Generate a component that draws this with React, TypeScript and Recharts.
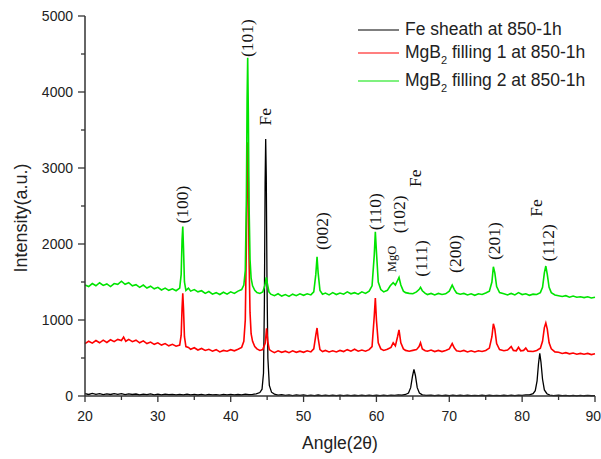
import React from 'react';
import { ComposedChart, Line, Scatter, XAxis, YAxis, Legend, Label } from 'recharts';

type Pt = [number, number];

// 2-theta axis ticks (labels on the tens) and intensity ticks (labels on the thousands)
const angleTicks = [20, 25, 30, 35, 40, 45, 50, 55, 60, 65, 70, 75, 80, 85, 90];
const intensityTicks = [0, 500, 1000, 1500, 2000, 2500, 3000, 3500, 4000, 4500, 5000];

// [2θ, counts]
const feSheath: Pt[] = [
  [20, 30], [20.5, 20], [21, 35], [21.5, 22], [22, 30], [22.5, 18], [23, 28], [23.5, 20], [24, 32], [24.5, 22],
  [25, 30], [25.5, 18], [26, 28], [26.5, 20], [27, 26], [27.5, 15], [28, 25], [28.5, 18], [29, 27], [29.5, 16],
  [30, 24], [30.5, 15], [31, 25], [31.5, 18], [32, 22], [32.5, 14], [33, 22], [33.5, 16], [34, 24], [34.5, 14],
  [35, 20], [35.5, 13], [36, 22], [36.5, 12], [37, 20], [37.5, 14], [38, 18], [38.5, 12], [39, 20], [39.5, 14],
  [40, 22], [40.5, 15], [41, 20], [41.5, 16], [42, 24], [42.5, 18], [43, 22], [43.5, 28], [44, 45], [44.3, 90],
  [44.5, 300], [44.62, 1200], [44.72, 2800], [44.8, 3380], [44.88, 2900], [44.98, 1500], [45.1, 500], [45.3, 140],
  [45.6, 50], [46, 25], [46.5, 12], [47, 18], [47.5, 8], [48, 15], [48.5, 6], [49, 14], [49.5, 8], [50, 14],
  [50.5, 6], [51, 12], [51.5, 5], [52, 13], [52.5, 6], [53, 12], [53.5, 4], [54, 12], [54.5, 5], [55, 11],
  [55.5, 4], [56, 12], [56.5, 5], [57, 10], [57.5, 4], [58, 11], [58.5, 5], [59, 12], [59.5, 4], [60, 10],
  [60.5, 5], [61, 12], [61.5, 6], [62, 12], [62.5, 8], [63, 14], [63.5, 10], [64, 20], [64.4, 40], [64.7, 110],
  [64.95, 260], [65.15, 350], [65.35, 270], [65.6, 110], [65.9, 40], [66.3, 15], [66.8, 8], [67.5, 12], [68, 5],
  [68.5, 11], [69, 4], [69.5, 10], [70, 5], [70.5, 11], [71, 4], [71.5, 10], [72, 5], [72.5, 10], [73, 4],
  [73.5, 9], [74, 4], [74.5, 10], [75, 5], [75.5, 10], [76, 4], [76.5, 9], [77, 5], [77.5, 10], [78, 5],
  [78.5, 11], [79, 6], [79.5, 12], [80, 8], [80.5, 14], [81, 15], [81.5, 30], [81.8, 70], [82.05, 200],
  [82.25, 430], [82.42, 560], [82.58, 450], [82.8, 220], [83.05, 80], [83.4, 30], [83.8, 12], [84.3, 6],
  [85, 10], [85.5, 4], [86, 9], [86.5, 3], [87, 8], [87.5, 3], [88, 8], [88.5, 3], [89, 7], [89.5, 3], [90, 6],
];

const filling1: Pt[] = [
  [20, 690], [20.5, 720], [21, 695], [21.5, 730], [22, 700], [22.5, 735], [23, 705], [23.5, 740], [24, 715],
  [24.5, 745], [25, 730], [25.3, 775], [25.6, 720], [26, 745], [26.5, 715], [27, 735], [27.5, 700], [28, 725],
  [28.5, 690], [29, 710], [29.5, 680], [30, 700], [30.5, 670], [31, 690], [31.5, 660], [32, 680], [32.5, 655],
  [33, 670], [33.2, 800], [33.32, 1150], [33.42, 1350], [33.52, 1150], [33.65, 780], [33.85, 650], [34.2, 640],
  [34.5, 615], [35, 635], [35.5, 605], [36, 625], [36.5, 600], [37, 615], [37.5, 590], [38, 610], [38.5, 580],
  [39, 600], [39.5, 590], [40, 610], [40.5, 595], [41, 615], [41.5, 640], [41.8, 720], [42.0, 1000],
  [42.15, 2000], [42.25, 2900], [42.33, 3340], [42.42, 2800], [42.52, 1800], [42.65, 1100], [42.8, 820],
  [43.0, 720], [43.3, 650], [43.6, 620], [44.0, 600], [44.4, 610], [44.75, 700], [44.92, 890], [45.08, 720],
  [45.3, 610], [45.6, 590], [46, 570], [46.5, 595], [47, 575], [47.5, 590], [48, 570], [48.5, 595], [49, 575],
  [49.5, 590], [50, 575], [50.5, 595], [51, 580], [51.4, 620], [51.68, 800], [51.85, 895], [52.0, 760],
  [52.25, 610], [52.6, 585], [53, 600], [53.5, 580], [54, 595], [54.5, 580], [55, 600], [55.5, 585], [56, 610],
  [56.5, 590], [57, 615], [57.5, 590], [58, 605], [58.5, 590], [59, 610], [59.4, 650], [59.7, 1050],
  [59.85, 1290], [60.0, 1000], [60.25, 700], [60.6, 620], [61, 600], [61.5, 615], [62, 640], [62.3, 700],
  [62.6, 660], [62.9, 780], [63.1, 870], [63.35, 700], [63.7, 620], [64, 600], [64.5, 590], [65, 600],
  [65.5, 610], [65.85, 650], [66.05, 700], [66.3, 620], [66.7, 595], [67, 590], [67.5, 605], [68, 585],
  [68.5, 600], [69, 585], [69.5, 600], [70, 620], [70.4, 690], [70.7, 630], [71, 595], [71.5, 585], [72, 600],
  [72.5, 580], [73, 595], [73.5, 580], [74, 595], [74.5, 585], [75, 600], [75.5, 630], [75.85, 780],
  [76.05, 950], [76.25, 880], [76.5, 690], [76.9, 610], [77.5, 595], [78, 605], [78.5, 650], [78.8, 600],
  [79.2, 595], [79.5, 640], [79.8, 595], [80.2, 600], [80.5, 630], [80.8, 590], [81.5, 585], [82, 600],
  [82.5, 630], [82.8, 720], [83.05, 900], [83.25, 960], [83.45, 880], [83.7, 700], [84, 620], [84.5, 580],
  [85, 575], [85.5, 560], [86, 570], [86.5, 555], [87, 565], [87.5, 550], [88, 560], [88.5, 550], [89, 560],
  [89.5, 545], [90, 555],
];

const filling2: Pt[] = [
  [20, 1460], [20.5, 1440], [21, 1480], [21.5, 1450], [22, 1490], [22.5, 1455], [23, 1475], [23.5, 1440],
  [24, 1480], [24.5, 1470], [25, 1510], [25.5, 1470], [26, 1490], [26.5, 1450], [27, 1465], [27.5, 1430],
  [28, 1460], [28.5, 1420], [29, 1445], [29.5, 1410], [30, 1430], [30.5, 1395], [31, 1420], [31.5, 1390],
  [32, 1410], [32.5, 1385], [33, 1420], [33.2, 1600], [33.32, 2050], [33.42, 2230], [33.52, 1950], [33.65, 1500],
  [33.85, 1390], [34.2, 1420], [34.5, 1380], [35, 1400], [35.5, 1370], [36, 1385], [36.5, 1350], [37, 1375],
  [37.5, 1340], [38, 1360], [38.5, 1335], [39, 1365], [39.5, 1340], [40, 1370], [40.5, 1350], [41, 1380],
  [41.5, 1400], [41.8, 1460], [42.0, 1650], [42.15, 2600], [42.25, 3900], [42.33, 4450], [42.42, 3700],
  [42.52, 2500], [42.65, 1800], [42.8, 1550], [43.0, 1450], [43.3, 1390], [43.6, 1360], [44.0, 1350],
  [44.4, 1370], [44.7, 1460], [44.88, 1560], [45.05, 1470], [45.25, 1370], [45.5, 1340], [46, 1320],
  [46.5, 1345], [47, 1315], [47.5, 1335], [48, 1310], [48.5, 1340], [49, 1320], [49.5, 1345], [50, 1325],
  [50.5, 1345], [51, 1330], [51.4, 1370], [51.68, 1600], [51.85, 1830], [52.0, 1620], [52.25, 1390],
  [52.6, 1340], [53, 1355], [53.5, 1330], [54, 1360], [54.5, 1335], [55, 1355], [55.5, 1340], [56, 1370],
  [56.5, 1345], [57, 1360], [57.5, 1340], [58, 1370], [58.5, 1350], [59, 1380], [59.4, 1450], [59.7, 1850],
  [59.85, 2160], [60.0, 1900], [60.25, 1500], [60.6, 1400], [61, 1370], [61.5, 1390], [61.9, 1450],
  [62.3, 1490], [62.6, 1460], [62.9, 1520], [63.1, 1560], [63.35, 1460], [63.7, 1380], [64, 1360], [64.5, 1350],
  [65, 1345], [65.5, 1370], [65.85, 1400], [66.05, 1430], [66.3, 1385], [66.7, 1350], [67, 1335], [67.5, 1350],
  [68, 1330], [68.5, 1350], [69, 1335], [69.5, 1345], [70, 1380], [70.4, 1460], [70.7, 1400], [71, 1355],
  [71.5, 1340], [72, 1350], [72.5, 1330], [73, 1345], [73.5, 1325], [74, 1345], [74.5, 1335], [75, 1355],
  [75.5, 1380], [75.85, 1500], [76.05, 1700], [76.25, 1620], [76.5, 1440], [76.9, 1360], [77.5, 1345],
  [78, 1330], [78.5, 1350], [79, 1330], [79.5, 1360], [80, 1335], [80.5, 1345], [81, 1325], [81.5, 1340],
  [82, 1335], [82.5, 1360], [82.8, 1430], [83.05, 1620], [83.25, 1710], [83.45, 1600], [83.7, 1430],
  [84, 1360], [84.5, 1330], [85, 1320], [85.5, 1310], [86, 1320], [86.5, 1300], [87, 1315], [87.5, 1300],
  [88, 1305], [88.5, 1295], [89, 1305], [89.5, 1290], [90, 1300],
];

// reflection indices / phase marks, placed just above their peaks
const peakLabels = [
  { angle: 33.4, value: 2270, text: '(100)' },
  { angle: 42.3, value: 4460, text: '(101)' },
  { angle: 44.8, value: 3560, text: 'Fe' },
  { angle: 52.5, value: 1920, text: '(002)' },
  { angle: 59.8, value: 2180, text: '(110)' },
  { angle: 62.1, value: 1630, text: 'MgO' },
  { angle: 63.1, value: 2140, text: '(102)' },
  { angle: 65.3, value: 2750, text: 'Fe' },
  { angle: 66.1, value: 1570, text: '(111)' },
  { angle: 70.8, value: 1620, text: '(200)' },
  { angle: 76.2, value: 1790, text: '(201)' },
  { angle: 82.0, value: 2360, text: 'Fe' },
  { angle: 83.6, value: 1770, text: '(112)' },
];

const toRows = (pts: Pt[]) => pts.map(([angle, value]) => ({ angle, value }));

const series = [
  { name: 'Fe sheath at 850-1h', color: '#000000', width: 1.3, rows: toRows(feSheath) },
  { name: 'MgB2 filling 1 at 850-1h', color: '#ff0000', width: 1.6, rows: toRows(filling1) },
  { name: 'MgB2 filling 2 at 850-1h', color: '#00e400', width: 1.6, rows: toRows(filling2) },
];

const SANS = '"Liberation Sans", Arial, sans-serif';
const SERIF = '"Liberation Serif", "Times New Roman", serif';
const AXIS = '#333';
const TEXT = '#222';

const BottomTick = ({ x, y, payload }: any) => {
  const major = payload.value % 10 === 0;
  // the last label sits against the right edge of the figure
  const last = payload.value === angleTicks[angleTicks.length - 1];
  return (
    <g>
      <line x1={x} y1={y} x2={x} y2={y + (major ? 6 : 4)} stroke={AXIS} strokeWidth={1.3} />
      {major && (
        <text
          x={last ? x + 6 : x}
          y={y + 25}
          textAnchor={last ? 'end' : 'middle'}
          fill={TEXT}
          fontSize={14}
          fontFamily={SANS}
        >
          {payload.value}
        </text>
      )}
    </g>
  );
};

const TopTick = ({ x, y, payload }: any) => {
  const major = payload.value % 10 === 0;
  return <line x1={x} y1={y} x2={x} y2={y - (major ? 7 : 4)} stroke={AXIS} strokeWidth={1.3} />;
};

const LeftTick = ({ x, y, payload }: any) => {
  const major = payload.value % 1000 === 0;
  return (
    <g>
      <line x1={x} y1={y} x2={x - (major ? 7 : 4)} y2={y} stroke={AXIS} strokeWidth={1.3} />
      {major && (
        <text x={x - 12} y={y + 5} textAnchor="end" fill={TEXT} fontSize={14} fontFamily={SANS}>
          {payload.value}
        </text>
      )}
    </g>
  );
};

const RightTick = ({ x, y }: any) => (
  <line x1={x} y1={y} x2={x + 6} y2={y} stroke={AXIS} strokeWidth={1.3} />
);

const YTitle = ({ viewBox }: any) => {
  const cx = viewBox.x + 27;
  const cy = viewBox.y + viewBox.height / 2 + 12;
  return (
    <text x={cx} y={cy} transform={`rotate(-90 ${cx} ${cy})`} textAnchor="middle" fill={TEXT} fontSize={18} fontFamily={SANS}>
      Intensity(a.u.)
    </text>
  );
};

const XTitle = ({ viewBox }: any) => (
  <text x={viewBox.x + viewBox.width / 2} y={viewBox.y + 53} textAnchor="middle" fill={TEXT} fontSize={17.5} fontFamily={SANS}>
    Angle(2θ)
  </text>
);

const PeakLabel = (props: any) => {
  const { cx, cy, payload } = props;
  const small = payload.text === 'MgO';
  return (
    <text
      x={cx}
      y={cy}
      dy="0.33em"
      transform={`rotate(-90 ${cx} ${cy})`}
      fill="#111"
      fontSize={small ? 12.5 : 17.5}
      fontFamily={SERIF}
    >
      {payload.text}
    </text>
  );
};

// series names carry "MgB2", drawn with a subscript 2
const LegendName = ({ name, y }: { name: string; y: number }) => {
  const m = name.match(/^MgB2(.*)$/);
  if (!m) {
    return <text x={50} y={y} fontSize={17.5} fontFamily={SANS} fill={TEXT}>{name}</text>;
  }
  return (
    <text x={50} y={y} fontSize={17.5} fontFamily={SANS} fill={TEXT} style={{ whiteSpace: 'pre' }}>
      MgB<tspan dy={6} fontSize={11}>2</tspan>
      <tspan dy={-6}>{m[1]}</tspan>
    </text>
  );
};

const renderLegend = ({ payload }: any) => {
  const rowBase = [27, 50, 78];
  const items = (payload || []).filter((p: any) => p.type !== 'none');
  return (
    <svg width={245} height={88}>
      {items.map((entry: any, i: number) => (
        <g key={entry.value}>
          <line x1={3} x2={44} y1={rowBase[i] - 5} y2={rowBase[i] - 5} stroke={entry.color} strokeWidth={1.2} />
          <LegendName name={entry.value} y={rowBase[i]} />
        </g>
      ))}
    </svg>
  );
};

export default function App() {
  return (
    <div style={{ position: 'absolute', left: 0, top: 0, width: 601, height: 459, background: '#fff' }}>
      <ComposedChart width={601} height={459} margin={{ top: 16, right: 6, bottom: 0, left: 0 }}>
        {/* frame axes without labels */}
        <XAxis
          xAxisId="top"
          orientation="top"
          type="number"
          dataKey="angle"
          domain={[20, 90]}
          ticks={angleTicks}
          interval={0}
          height={0}
          tickSize={0}
          tickMargin={0}
          tickLine={false}
          tick={<TopTick />}
          axisLine={{ stroke: AXIS, strokeWidth: 1.5 }}
        />
        <YAxis
          yAxisId="right"
          orientation="right"
          type="number"
          domain={[0, 5000]}
          ticks={intensityTicks}
          interval={0}
          width={0}
          tickSize={0}
          tickMargin={0}
          tickLine={false}
          tick={<RightTick />}
          axisLine={{ stroke: AXIS, strokeWidth: 1.5 }}
        />
        <XAxis
          type="number"
          dataKey="angle"
          domain={[20, 90]}
          ticks={angleTicks}
          interval={0}
          height={63}
          tickSize={0}
          tickMargin={0}
          tickLine={false}
          tick={<BottomTick />}
          axisLine={{ stroke: AXIS, strokeWidth: 1.5 }}
        >
          <Label content={<XTitle />} />
        </XAxis>
        <YAxis
          type="number"
          domain={[0, 5000]}
          ticks={intensityTicks}
          interval={0}
          width={85}
          tickSize={0}
          tickMargin={0}
          tickLine={false}
          tick={<LeftTick />}
          axisLine={{ stroke: AXIS, strokeWidth: 1.5 }}
        >
          <Label content={<YTitle />} />
        </YAxis>
        <Legend
          layout="vertical"
          align="center"
          verticalAlign="middle"
          content={renderLegend}
          wrapperStyle={{ top: 8, left: 355, width: 245, height: 88 }}
        />
        {series.map((s) => (
          <Line
            key={s.name}
            data={s.rows}
            dataKey="value"
            name={s.name}
            type="linear"
            stroke={s.color}
            strokeWidth={s.width}
            dot={false}
            activeDot={false}
            isAnimationActive={false}
          />
        ))}
        <Scatter
          data={peakLabels}
          dataKey="value"
          shape={<PeakLabel />}
          legendType="none"
          isAnimationActive={false}
        />
      </ComposedChart>
    </div>
  );
}
